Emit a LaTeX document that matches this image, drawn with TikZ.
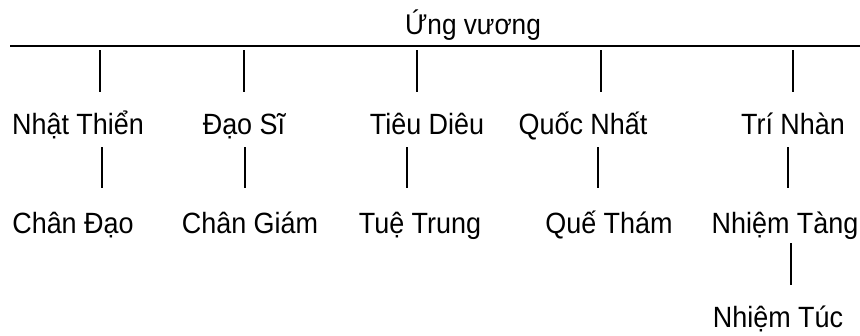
\documentclass[tikz,border=0pt]{standalone}
\usepackage{fontspec}
\setmainfont{Liberation Sans}
\newfontfamily\tallfont[FakeStretch=0.92]{Liberation Sans}
\begin{document}
\begin{tikzpicture}[x=1pt,y=-1pt,
  person/.style={anchor=base,inner sep=0pt,font=\tallfont\fontsize{29.3}{32}\selectfont},
  rootlbl/.style={anchor=base,inner sep=0pt,font=\tallfont\fontsize{28.5}{31}\selectfont},
  bar/.style={line width=2.8pt},
  link/.style={line width=1.5pt}]
\useasboundingbox (0,0) rectangle (860,335);

% root and the horizontal bar under it
\node[rootlbl] (root) at (473,34) {Ứng vương};
\coordinate (barL) at (10,46);
\coordinate (barR) at (860,46);
\draw[bar] (barL) -- (barR);

% first generation
\node[person] (nt) at (78,134)  {Nhật Thiển};
\node[person] (ds) at (244,134) {Đạo Sĩ};
\node[person] (td) at (427,134) {Tiêu Diêu};
\node[person] (qn) at (583,134) {Quốc Nhất};
\node[person] (tn) at (793,134) {Trí Nhàn};

% second generation
\node[person] (cd) at (73,233)  {Chân Đạo};
\node[person] (cg) at (250,233) {Chân Giám};
\node[person] (tt) at (420,233) {Tuệ Trung};
\node[person] (qt) at (609,233) {Quế Thám};
\node[person] (nta) at (785,233) {Nhiệm Tàng};

% third generation
\node[person] (ntu) at (778,327) {Nhiệm Túc};

% drops from the bar
\foreach \n/\x in {a/100,b/244,c/417,d/601,e/793}{
  \coordinate (u\n) at (\x,50);
  \coordinate (v\n) at (\x,92);
  \draw[link] (u\n) -- (v\n);
}
% links between the first and second generation
\foreach \n/\x in {a/102,b/245,c/407,d/598,e/788}{
  \coordinate (p\n) at (\x,147);
  \coordinate (q\n) at (\x,188);
  \draw[link] (p\n) -- (q\n);
}
% link to the third generation
\coordinate (r1) at (791,243);
\coordinate (r2) at (791,285);
\draw[link] (r1) -- (r2);
\end{tikzpicture}
\end{document}
